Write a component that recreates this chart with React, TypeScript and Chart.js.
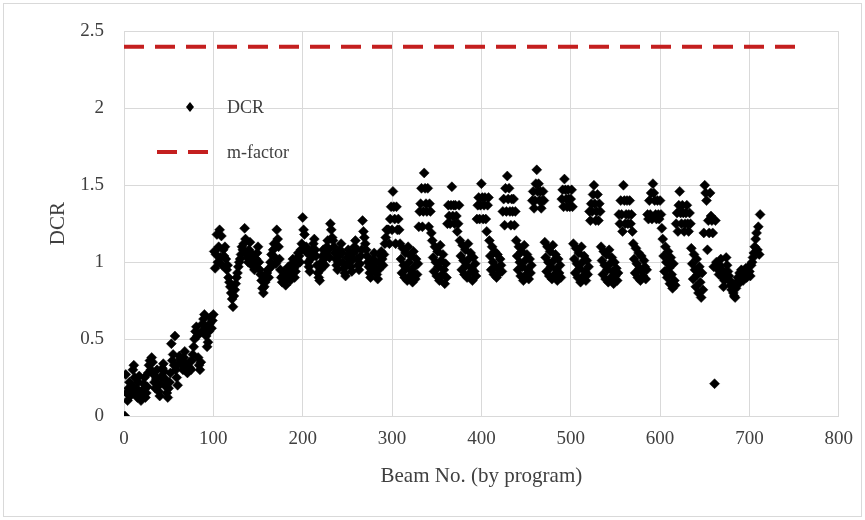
import React, { useEffect, useRef } from "react";
import { Chart, registerables } from "chart.js";

Chart.register(...registerables);

// ---- axis ticks ----
const xTicks = [0, 100, 200, 300, 400, 500, 600, 700, 800];
const yTicks = [0, 0.5, 1, 1.5, 2, 2.5];

// ---- m-factor line ----
const mFactorValue = 2.4;
const mFactorBeams = [0, 755];

// ---- DCR values, by beam number (start beam of each block) ----
const start001 = 1;
const dcr001_100 = [
  0.0, 0.27, 0.15, 0.1, 0.18, 0.22, 0.13, 0.16, 0.2, 0.3,
  0.33, 0.25, 0.14, 0.18, 0.12, 0.22, 0.26, 0.15, 0.1, 0.14,
  0.17, 0.21, 0.25, 0.12, 0.15, 0.19, 0.28, 0.33, 0.36, 0.3,
  0.38, 0.35, 0.27, 0.22, 0.18, 0.24, 0.3, 0.2, 0.16, 0.13,
  0.21, 0.26, 0.31, 0.34, 0.29, 0.24, 0.19, 0.15, 0.12, 0.18,
  0.22, 0.28, 0.47, 0.36, 0.4, 0.33, 0.52, 0.3, 0.25, 0.2,
  0.34, 0.39, 0.37, 0.35, 0.33, 0.3, 0.38, 0.42, 0.34, 0.29,
  0.28, 0.32, 0.35, 0.31, 0.3, 0.36, 0.4, 0.45, 0.5, 0.55,
  0.58, 0.52, 0.38, 0.33, 0.3, 0.35, 0.55, 0.6, 0.63, 0.66,
  0.58, 0.52, 0.45, 0.48, 0.55, 0.6, 0.64, 0.57, 0.62, 0.66,
];

const start101 = 101;
const dcr101_295 = [
  1.07, 0.96, 1.05, 1.18, 1.0, 1.1, 1.21, 1.03, 1.17, 0.98, 1.08, 1.04,
  1.1, 1.02, 0.95, 0.98, 0.9, 0.87, 0.84, 0.8, 0.76, 0.71, 0.78, 0.82, 0.86, 0.9, 0.93, 0.97, 1.0, 1.02,
  1.05, 1.1, 1.08, 1.12, 1.22, 1.15, 1.06, 1.03, 1.0, 1.08, 1.13, 1.02, 0.98, 1.05, 1.0, 0.95, 0.97, 1.02, 1.06, 1.1,
  1.0, 0.95, 0.92, 0.88, 0.83, 0.8, 0.84, 0.87, 0.9, 0.93, 0.95, 0.9, 0.96, 1.0, 1.05, 0.98, 1.08, 1.12, 1.03, 0.99,
  1.21, 1.15, 1.1, 1.02, 0.95, 0.9, 0.87, 0.91, 0.94, 0.88, 0.85, 0.89, 0.93, 0.97, 0.92, 0.88, 0.95, 0.99, 1.02, 0.96,
  0.9, 0.94, 0.98, 1.02, 1.06, 1.04, 1.0, 1.08, 1.12, 1.29, 1.21, 1.18, 1.08, 1.1, 1.06, 1.0, 0.97, 0.94, 1.02, 1.05,
  1.08, 1.12, 1.15, 1.08, 1.04, 0.98, 0.93, 0.9, 0.88, 0.95, 1.0, 1.04, 1.08, 1.02, 0.98, 1.06, 1.1, 1.14, 1.08, 1.03,
  1.25, 1.21, 1.16, 1.14, 1.1, 1.06, 1.02, 0.98, 0.95, 1.0, 1.04, 1.08, 1.12, 1.06, 1.0, 0.96, 0.93, 0.91, 0.98, 1.03,
  1.08, 1.05, 1.0, 0.97, 0.94, 1.02, 1.06, 1.1, 1.14, 1.08, 1.02, 0.98, 0.95, 0.99, 1.04, 1.08, 1.27, 1.2, 1.16, 1.12,
  1.08, 1.04, 1.0, 0.97, 0.93, 0.9, 0.94, 0.98, 1.02, 1.06, 1.0, 0.96, 0.92, 0.89, 0.95, 1.0, 1.04, 1.07, 1.02, 0.98,
  1.05, 1.12, 1.16, 1.21, 1.21,
];

const start296 = 296;
const dcr296_423 = [
  1.21, 1.12, 1.28, 1.36, 1.21, 1.46, 1.36, 1.28, 1.12, 1.36, 1.21, 1.28, 1.21,
  1.12, 1.02, 0.93, 1.09, 0.98, 0.9, 1.06, 0.96, 0.88, 1.1, 1.0, 0.91, 1.04, 0.94, 0.87, 1.07, 0.97, 0.89, 1.02, 0.92, 0.99,
  1.23, 1.33, 1.38, 1.48, 1.23, 1.33, 1.58, 1.48, 1.38, 1.33, 1.48, 1.23, 1.38, 1.33, 1.19,
  1.14, 1.03, 0.94, 1.1, 1.0, 0.91, 1.07, 0.97, 0.88, 1.11, 1.01, 0.92, 1.05, 0.95, 0.86, 0.99, 0.9,
  1.25, 1.37, 1.3, 1.25, 1.37, 1.49, 1.3, 1.37, 1.25, 1.37, 1.3, 1.2, 1.25, 1.37,
  1.14, 1.04, 0.95, 1.11, 1.01, 0.92, 1.08, 0.98, 0.9, 1.12, 1.02, 0.93, 1.06, 0.96, 0.88, 1.03, 0.94, 0.99, 0.91,
  1.28, 1.37, 1.42, 1.28, 1.37, 1.51, 1.42, 1.28, 1.37, 1.42, 1.28, 1.2, 1.37, 1.42,
  1.14, 1.04, 0.95, 1.1, 1.0, 0.92, 1.07, 0.97, 0.9, 1.05, 0.96, 0.93, 1.02, 0.98, 0.94,
];

const start424 = 424;
const dcr424_553 = [
  1.33, 1.41, 1.24, 1.48, 1.33, 1.56, 1.41, 1.48, 1.33, 1.24, 1.41, 1.33, 1.41, 1.24, 1.33,
  1.14, 1.04, 0.95, 1.1, 1.0, 0.91, 1.07, 0.97, 0.88, 1.11, 1.01, 0.92, 1.05, 0.95, 0.89, 1.02, 0.93, 0.98,
  1.4, 1.46, 1.35, 1.4, 1.51, 1.6, 1.46, 1.51, 1.4, 1.46, 1.35, 1.4, 1.46, 1.4,
  1.13, 1.03, 0.94, 1.1, 1.0, 0.91, 1.07, 0.97, 0.89, 1.11, 1.01, 0.92, 1.05, 0.95, 0.88, 1.02, 0.93, 0.98, 0.9,
  1.41, 1.47, 1.36, 1.54, 1.47, 1.41, 1.36, 1.47, 1.41, 1.36, 1.41, 1.47, 1.36,
  1.12, 1.02, 0.93, 1.09, 0.99, 0.9, 1.06, 0.96, 0.87, 1.1, 1.0, 0.91, 1.04, 0.94, 0.88, 1.01, 0.92, 0.97,
  1.33, 1.27, 1.38, 1.33, 1.44, 1.5, 1.38, 1.27, 1.33, 1.44, 1.27, 1.38, 1.33,
  1.1, 1.01, 0.92, 1.07, 0.98, 0.89, 1.05, 0.95, 0.87, 1.08, 0.99, 0.9, 1.03, 0.94, 0.86, 1.0, 0.91, 0.96, 0.88, 0.93,
];

const start554 = 554;
const dcr554_661 = [
  1.31, 1.25, 1.4, 1.31, 1.2, 1.5, 1.4, 1.25, 1.31, 1.4, 1.25, 1.31, 1.4, 1.25, 1.31, 1.2,
  1.12, 1.02, 0.93, 1.09, 0.99, 0.9, 1.06, 0.96, 0.88, 1.04, 0.94, 0.91, 1.01, 0.97, 0.89, 0.95,
  1.31, 1.28, 1.4, 1.31, 1.45, 1.28, 1.51, 1.45, 1.4, 1.31, 1.28, 1.4, 1.31, 1.28, 1.4, 1.31, 1.22,
  1.15, 1.04, 0.94, 1.1, 1.0, 0.9, 1.07, 0.96, 0.86, 1.03, 0.92, 0.83, 0.99, 0.88, 0.85,
  1.25, 1.32, 1.2, 1.37, 1.46, 1.32, 1.25, 1.37, 1.32, 1.2, 1.25, 1.32, 1.37, 1.25, 1.2, 1.32, 1.25,
  1.09, 0.99, 0.89, 1.05, 0.95, 0.84, 1.02, 0.92, 0.8, 0.97, 0.87, 0.77, 0.93, 0.82,
  1.19, 1.5, 1.45, 1.4, 1.08, 1.27, 1.19, 1.45, 1.3, 1.27, 1.19, 0.97, 0.21,
];

const start662 = 662;
const dcr662_712 = [
  1.27, 1.0, 0.97, 0.95, 0.92, 0.98, 1.02, 0.95, 0.9, 0.84,
  0.88, 0.93, 1.03, 0.98, 0.94, 0.91, 0.88, 0.85, 0.82, 0.86,
  0.8, 0.78, 0.77, 0.83, 0.87, 0.9, 0.86, 0.93, 0.89, 0.95,
  0.91, 0.88, 0.94, 0.92, 0.96, 0.9, 0.93, 0.97, 0.94, 0.91,
  0.98, 1.0, 1.03, 1.06, 1.1, 1.15, 1.19, 1.08, 1.23, 1.05,
  1.31,
];

const toPoints = (start: number, values: number[]) =>
  values.map((y, i) => ({ x: start + i, y }));

const FONT = "'Liberation Serif', 'Times New Roman', serif";
const TEXT = "#404040";
const GRID = "#d9d9d9";
const RED = "#c41f1f";

const insideLegend = {
  id: "insideLegend",
  afterDatasetsDraw(chart: any) {
    const ctx = chart.ctx as CanvasRenderingContext2D;
    const ds = chart.data.datasets;
    ctx.save();
    // DCR marker
    const mx = 190, my = 107, r = 5;
    ctx.fillStyle = "#000";
    ctx.beginPath();
    ctx.moveTo(mx, my - r);
    ctx.lineTo(mx + r - 1, my);
    ctx.lineTo(mx, my + r);
    ctx.lineTo(mx - r + 1, my);
    ctx.closePath();
    ctx.fill();
    ctx.font = `18px ${FONT}`;
    ctx.fillStyle = TEXT;
    ctx.textBaseline = "middle";
    ctx.textAlign = "left";
    ctx.fillText(ds[0].label, 227, 108);
    // m-factor marker
    ctx.strokeStyle = RED;
    ctx.lineWidth = 4;
    ctx.setLineDash([20, 11]);
    ctx.beginPath();
    ctx.moveTo(157, 152);
    ctx.lineTo(210, 152);
    ctx.stroke();
    ctx.setLineDash([]);
    ctx.fillText(ds[1].label, 227, 153);
    ctx.restore();
  },
};

export default function App() {
  const ref = useRef<HTMLCanvasElement | null>(null);

  useEffect(() => {
    if (!ref.current) return;
    const dcrPoints = [
      ...toPoints(start001, dcr001_100),
      ...toPoints(start101, dcr101_295),
      ...toPoints(start296, dcr296_423),
      ...toPoints(start424, dcr424_553),
      ...toPoints(start554, dcr554_661),
      ...toPoints(start662, dcr662_712),
    ];
    const mLine = mFactorBeams.map((x) => ({ x, y: mFactorValue }));

    const chart = new Chart(ref.current, {
      type: "scatter",
      data: {
        datasets: [
          {
            label: "DCR",
            data: dcrPoints,
            pointStyle: "rectRot",
            pointRadius: 5,
            pointHoverRadius: 5,
            backgroundColor: "#000",
            borderColor: "#000",
            borderWidth: 0.5,
            order: 2,
          },
          {
            type: "line",
            label: "m-factor",
            data: mLine,
            borderColor: RED,
            borderWidth: 4,
            borderDash: [20, 11],
            pointRadius: 0,
            pointHoverRadius: 0,
            showLine: true,
            fill: false,
            order: 1,
          } as any,
        ],
      },
      options: {
        responsive: false,
        animation: false,
        devicePixelRatio: 1,
        layout: { padding: { left: 0, top: 29, right: 24, bottom: 0 } },
        plugins: { legend: { display: false }, tooltip: { enabled: false } },
        scales: {
          x: {
            type: "linear",
            min: xTicks[0],
            max: xTicks[xTicks.length - 1],
            afterBuildTicks: (s: any) => {
              s.ticks = xTicks.map((v) => ({ value: v }));
            },
            afterFit: (s: any) => {
              s.height = 104;
            },
            grid: { color: GRID, lineWidth: 1, drawTicks: false },
            border: { color: GRID, width: 1 },
            ticks: {
              padding: 12,
              color: TEXT,
              maxRotation: 0,
              font: { family: FONT, size: 19 },
              callback: (v: any) => String(v),
            },
            title: {
              display: true,
              text: "Beam No. (by program)",
              color: TEXT,
              font: { family: FONT, size: 21 },
              padding: { top: 0, bottom: 31 },
            },
          },
          y: {
            type: "linear",
            min: yTicks[0],
            max: yTicks[yTicks.length - 1],
            afterBuildTicks: (s: any) => {
              s.ticks = yTicks.map((v) => ({ value: v }));
            },
            afterFit: (s: any) => {
              s.width = 124;
            },
            grid: { color: GRID, lineWidth: 1, drawTicks: false },
            border: { color: GRID, width: 1 },
            ticks: {
              padding: 20,
              color: TEXT,
              font: { family: FONT, size: 19 },
              callback: (v: any) => String(v),
            },
            title: {
              display: true,
              text: "DCR",
              color: TEXT,
              font: { family: FONT, size: 21 },
              padding: { top: 46, bottom: 0 },
            },
          },
        },
      },
      plugins: [insideLegend],
    });
    return () => chart.destroy();
  }, []);

  return (
    <div
      style={{
        position: "absolute",
        left: 0,
        top: 0,
        width: 865,
        height: 520,
        background: "#fff",
      }}
    >
      <canvas ref={ref} width={865} height={520} style={{ display: "block", width: 865, height: 520 }} />
      <div
        style={{
          position: "absolute",
          left: 3,
          top: 3,
          width: 857,
          height: 512,
          border: "1px solid #d9d9d9",
          pointerEvents: "none",
        }}
      />
    </div>
  );
}
